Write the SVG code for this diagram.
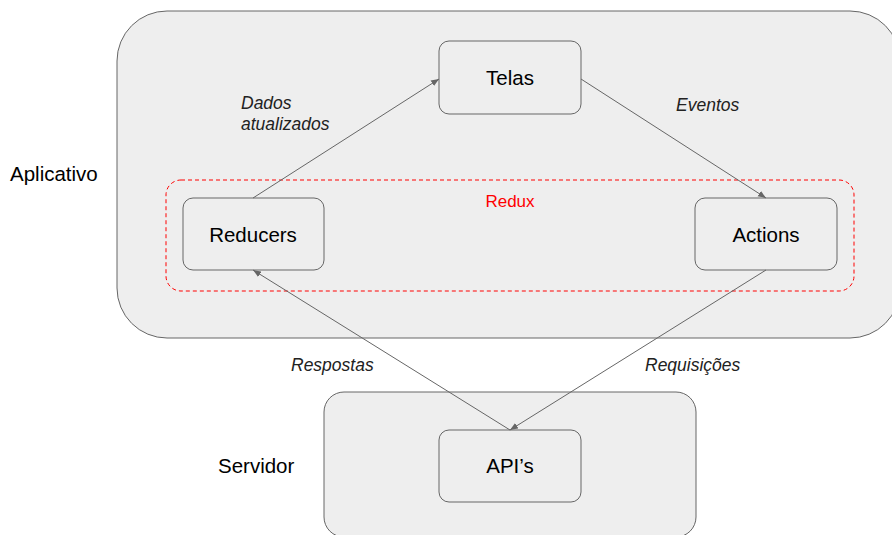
<svg xmlns="http://www.w3.org/2000/svg" width="892" height="535" viewBox="0 0 892 535">
<style>
.box{fill:#eeeeee;stroke:#666666;stroke-width:1}
.node{fill:#eeeeee;stroke:#666666;stroke-width:1}
.t{font-family:Arial,"Liberation Sans",sans-serif;font-size:20.5px;fill:#000;text-anchor:middle;dominant-baseline:central}
.lbl{font-family:Arial,"Liberation Sans",sans-serif;font-size:20.5px;fill:#000}
.it{font-family:Arial,"Liberation Sans",sans-serif;font-size:17.5px;font-style:italic;fill:#222}
.edge{stroke:#666666;stroke-width:1;fill:none;marker-end:url(#ah)}
</style>
<defs>
<marker id="ah" viewBox="0 0 10 10" refX="10" refY="5" markerWidth="8" markerHeight="8" markerUnits="userSpaceOnUse" orient="auto">
<path d="M0,1 L10,5 L0,9 z" fill="#666666"/>
</marker>
</defs>
<rect width="892" height="535" fill="#ffffff"/>
<g id="aplicativo">
<rect class="box" x="117" y="11" width="783" height="327" rx="50"/>
<text class="lbl" x="10" y="181">Aplicativo</text>
</g>
<g id="servidor">
<rect class="box" x="324" y="392" width="372" height="145" rx="20"/>
<text class="lbl" x="218" y="473">Servidor</text>
</g>
<g id="redux">
<rect x="166" y="180" width="688" height="111" rx="15" fill="none" stroke="#ff0000" stroke-width="1" stroke-dasharray="4 3"/>
<text x="510" y="207" font-family="Arial,'Liberation Sans',sans-serif" font-size="17" fill="#ff0000" text-anchor="middle">Redux</text>
</g>
<g id="telas">
<rect class="node" x="439" y="41" width="142" height="73" rx="10"/>
<text class="t" x="510" y="77">Telas</text>
</g>
<g id="reducers">
<rect class="node" x="183" y="198" width="141" height="72" rx="10"/>
<text class="t" x="253" y="234">Reducers</text>
</g>
<g id="actions">
<rect class="node" x="695" y="198" width="142" height="72" rx="10"/>
<text class="t" x="766" y="234">Actions</text>
</g>
<g id="apis">
<rect class="node" x="439" y="430" width="142" height="72" rx="10"/>
<text class="t" x="510" y="465">API’s</text>
</g>
<g id="connectors">
<line class="edge" x1="253" y1="198" x2="439" y2="79"/>
<line class="edge" x1="581" y1="79" x2="766" y2="198"/>
<line class="edge" x1="766" y1="270" x2="510" y2="430"/>
<line class="edge" x1="510" y1="430" x2="253" y2="270"/>
<text class="it" x="241" y="109">Dados</text>
<text class="it" x="241" y="130">atualizados</text>
<text class="it" x="676" y="111">Eventos</text>
<text class="it" x="291" y="371">Respostas</text>
<text class="it" x="645" y="371">Requisições</text>
</g>
</svg>
